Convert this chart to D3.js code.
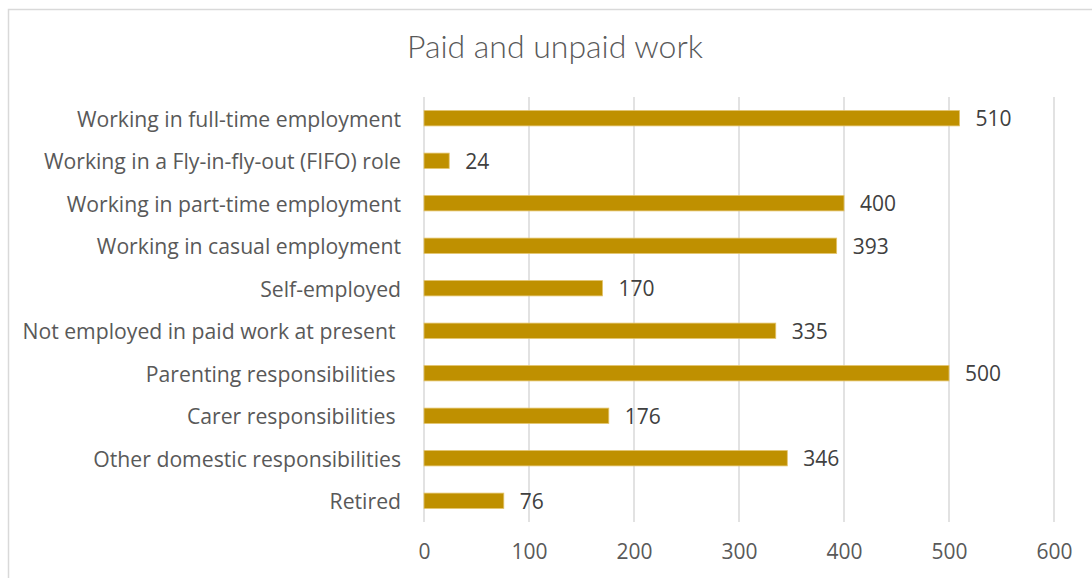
<!DOCTYPE html>
<html>
<head>
<meta charset="utf-8">
<script src="https://cdn.jsdelivr.net/npm/d3@7"></script>
<style>
  html, body { margin: 0; padding: 0; background: #fff; }
  svg { display: block; }
</style>
</head>
<body>
<svg id="chart" width="1092" height="578"></svg>
<script>
// Survey responses: paid and unpaid work
const categories = [
  "Working in full-time employment",
  "Working in a Fly-in-fly-out (FIFO) role",
  "Working in part-time employment",
  "Working in casual employment",
  "Self-employed",
  "Not employed in paid work at present ",
  "Parenting responsibilities ",
  "Carer responsibilities ",
  "Other domestic responsibilities",
  "Retired"
];
const counts = [510, 24, 400, 393, 170, 335, 500, 176, 346, 76];
const xTicks = [0, 100, 200, 300, 400, 500, 600];
const title = "Paid and unpaid work";

const svg = d3.select("#chart");
const W = 1092, H = 578;
const margin = { left: 424, right: 38, top: 97, bottom: 56 };
const labelFont = "'Open Sans', Lato, sans-serif";

// outer chart frame
svg.append("rect")
  .attr("x", 8.5).attr("y", 9.5)
  .attr("width", W + 10).attr("height", H + 10)
  .attr("fill", "#fff")
  .attr("stroke", "#d9d9d9").attr("stroke-width", 1.5);

const x = d3.scaleLinear().domain([0, 600]).range([margin.left, W - margin.right]);
const y = d3.scaleBand().domain(categories)
  .range([margin.top, H - margin.bottom])
  .paddingInner(0.64).paddingOuter(0.32);

// vertical gridlines
svg.append("g")
  .selectAll("line")
  .data(xTicks)
  .join("line")
  .attr("x1", d => x(d)).attr("x2", d => x(d))
  .attr("y1", margin.top).attr("y2", H - margin.bottom)
  .attr("stroke", "#d9d9d9").attr("stroke-width", 1.5);

// x axis tick labels
const xAxis = d3.axisBottom(x).tickValues(xTicks).tickSize(0).tickPadding(0);
const gx = svg.append("g")
  .attr("transform", `translate(0, ${H - margin.bottom + 22})`)
  .call(xAxis);
gx.select(".domain").remove();
gx.selectAll("text")
  .attr("dy", "0.71em")
  .attr("fill", "#595959")
  .style("font-family", labelFont)
  .style("font-size", "21px");

// category labels
const yAxis = d3.axisLeft(y).tickSize(0).tickPadding(23);
const gy = svg.append("g")
  .attr("transform", `translate(${margin.left}, 0)`)
  .call(yAxis);
gy.select(".domain").remove();
gy.selectAll("text")
  .attr("dy", "0.4em")
  .attr("fill", "#595959")
  .attr("xml:space", "preserve")
  .style("white-space", "pre")
  .style("font-family", labelFont)
  .style("font-size", "21.2px");

// bars
svg.append("g")
  .selectAll("rect")
  .data(categories)
  .join("rect")
  .attr("x", x(0))
  .attr("y", d => y(d))
  .attr("width", (d, i) => x(counts[i]) - x(0))
  .attr("height", y.bandwidth())
  .attr("fill", "#bf9000")
  .attr("stroke", "#e3c36a").attr("stroke-width", 0.8);

// value labels
svg.append("g")
  .selectAll("text")
  .data(categories)
  .join("text")
  .attr("x", (d, i) => x(counts[i]) + 16)
  .attr("y", d => y(d) + y.bandwidth() / 2)
  .attr("dy", "0.38em")
  .attr("fill", "#404040")
  .style("font-family", labelFont)
  .style("font-size", "21px")
  .text((d, i) => counts[i]);

// title
svg.append("text")
  .attr("x", 555)
  .attr("y", 58)
  .attr("text-anchor", "middle")
  .attr("fill", "#595959")
  .style("font-family", "Lato, 'Open Sans', sans-serif")
  .style("font-weight", 300)
  .style("font-size", "32px")
  .text(title);
</script>
</body>
</html>
